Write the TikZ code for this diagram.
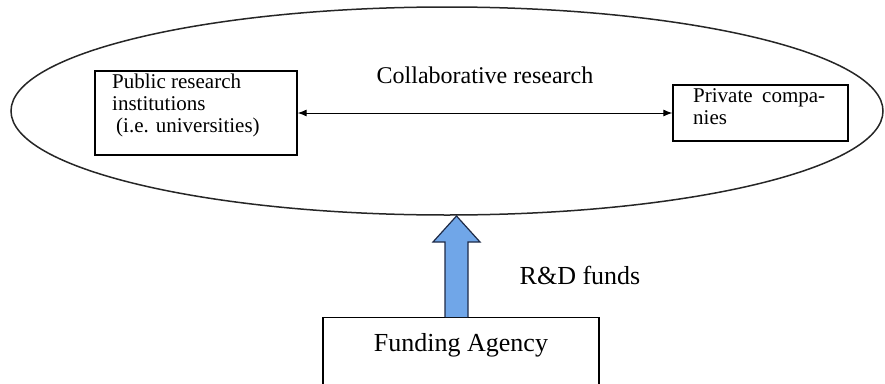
\documentclass[tikz,border=0pt]{standalone}
\usepackage{fontspec}
\setmainfont{Liberation Serif}
\usetikzlibrary{arrows.meta,shapes.geometric}
\definecolor{fundblue}{RGB}{112,166,232}
\definecolor{fundedge}{RGB}{30,42,70}
\tikzset{
  boxnode/.style={draw=black, line width=1.3pt, rectangle},
  txt/.style={inner sep=0pt, align=left, font=\fontsize{21}{22}\selectfont},
  bigtxt/.style={inner sep=0pt, font=\fontsize{26}{28}\selectfont}
}
\begin{document}
\begin{tikzpicture}[x=1pt,y=-1pt]
\useasboundingbox (0,0) rectangle (885,383);
% ellipse
\node (ell) [draw=black!85, line width=1.5pt, ellipse, minimum width=872pt, minimum height=208pt, inner sep=0pt] at (447,111) {};
% boxes
\node (pub) [boxnode, minimum width=202pt, minimum height=84pt, inner sep=0pt] at (196,113) {};
\node (pubtext) [txt, anchor=north west] at (112,74) {Public research\\institutions\\\hspace{4pt}(i.e. universities)};
\node (priv) [boxnode, minimum width=175pt, minimum height=56pt, inner sep=0pt] at (760.5,113) {};
\node (privtext) [txt, anchor=north west] at (693,88) {\makebox[132pt][s]{Private compa-}\\nies};
% collaborative arrow
\draw[line width=1pt, {Latex[length=9pt,width=7pt]}-{Latex[length=9pt,width=7pt]}] (pub.east) -- (priv.west);
\node (collab) [inner sep=0pt, font=\fontsize{24}{26}\selectfont] at (485,75) {Collaborative research};
% funding agency
\node (fa) [boxnode, anchor=north, minimum width=276pt, inner sep=0pt, text height=34pt, text depth=55pt, font=\fontsize{26}{28}\selectfont] at (461,317) {Funding Agency};
% block arrow
\coordinate (ba) at (456,317);
\draw[fill=fundblue, draw=fundedge, line width=1.2pt, line join=miter]
  (ba) ++(-11,0) -- ++(0,-75) -- ++(-12,0) -- ++(23.5,-26) -- ++(23.5,26) -- ++(-12,0) -- ++(0,75);
\node (rd) [bigtxt] at (580,275) {R\&D funds};
\end{tikzpicture}
\end{document}
